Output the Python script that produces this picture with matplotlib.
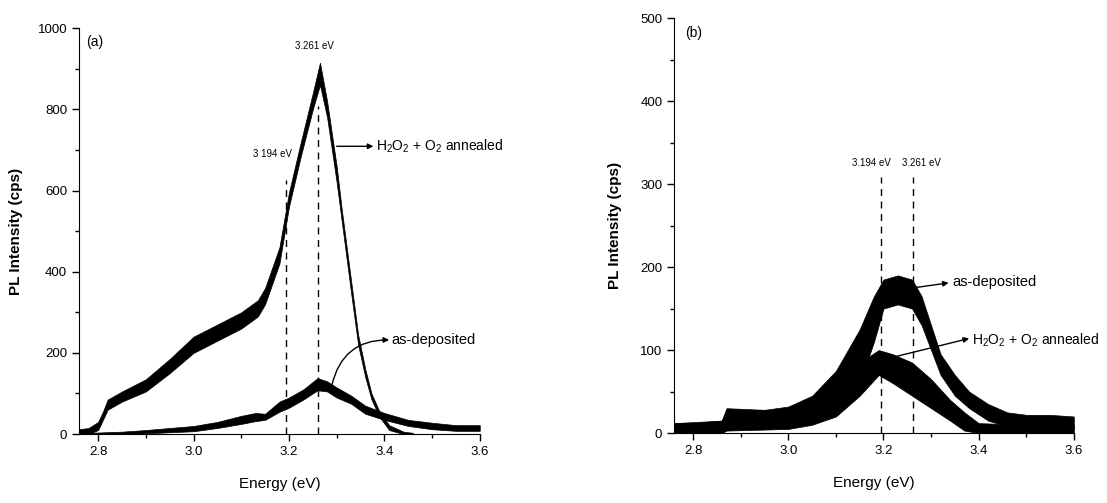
import matplotlib
matplotlib.use('Agg')
import matplotlib.pyplot as plt
from matplotlib.ticker import MultipleLocator

plt.rcParams['font.family'] = ['Liberation Sans', 'DejaVu Sans']
plt.rcParams['mathtext.fontset'] = 'custom'
plt.rcParams['mathtext.rm'] = 'Liberation Sans'
plt.rcParams['mathtext.default'] = 'rm'

# panel (a) - H2O2 + O2 annealed band (energy, lower, upper)
a_ann_e = [2.76, 2.78, 2.80, 2.81, 2.82, 2.85, 2.90, 2.95, 3.00, 3.05, 3.10, 3.135, 3.15, 3.18,
           3.20, 3.225, 3.25, 3.265, 3.28, 3.29, 3.30, 3.31, 3.32, 3.33, 3.345, 3.36, 3.373,
           3.39, 3.41, 3.44, 3.46]
a_ann_lo = [0, 0, 10, 35, 60, 80, 105, 150, 200, 230, 260, 290, 320, 420,
            560, 685, 800, 860, 780, 700, 620, 530, 440, 350, 220, 140, 85,
            42, 10, 0, 0]
a_ann_hi = [12, 15, 30, 55, 85, 105, 135, 185, 240, 270, 300, 330, 360, 460,
            595, 720, 840, 915, 820, 740, 660, 560, 470, 380, 245, 160, 100,
            55, 22, 6, 3]

# panel (a) - as-deposited band
a_dep_e = [2.78, 2.85, 2.90, 3.00, 3.05, 3.10, 3.13, 3.15, 3.18, 3.20, 3.23, 3.26, 3.28,
           3.30, 3.33, 3.36, 3.40, 3.45, 3.50, 3.55, 3.60]
a_dep_lo = [0, 0, 2, 7, 15, 25, 32, 35, 55, 65, 85, 108, 105, 90, 75, 50, 35, 20, 12, 8, 8]
a_dep_hi = [3, 6, 10, 20, 30, 45, 52, 50, 80, 90, 110, 138, 130, 115, 95, 70, 52, 35, 28, 22, 22]

# panel (b) - as-deposited band
b_dep_e = [2.76, 2.80, 2.86, 2.87, 2.95, 3.00, 3.05, 3.10, 3.15, 3.18, 3.20, 3.23, 3.26,
           3.28, 3.30, 3.32, 3.35, 3.38, 3.42, 3.46, 3.50, 3.55, 3.60]
b_dep_lo = [0, 0, 0, 5, 5, 8, 15, 30, 60, 110, 150, 155, 150, 130, 100, 70, 45, 30, 15, 8, 5, 5, 5]
b_dep_hi = [12, 12, 15, 30, 28, 32, 45, 75, 125, 165, 185, 190, 185, 165, 130, 95, 70, 50, 35, 25, 22, 22, 20]

# panel (b) - H2O2 + O2 annealed band
b_ann_e = [2.76, 2.86, 2.87, 3.00, 3.05, 3.10, 3.15, 3.19, 3.22, 3.26, 3.30, 3.34, 3.37, 3.40, 3.50, 3.60]
b_ann_lo = [0, 0, 3, 5, 10, 20, 45, 70, 60, 45, 30, 15, 3, 0, 0, 0]
b_ann_hi = [12, 15, 28, 28, 38, 55, 85, 100, 95, 85, 65, 40, 25, 12, 10, 10]

peaks = [3.194, 3.261]

fig = plt.figure(figsize=(11.07, 5.03), dpi=100)
axa = fig.add_axes([0.0714, 0.137, 0.362, 0.807])
axb = fig.add_axes([0.609, 0.139, 0.361, 0.825])

arrow = dict(arrowstyle='-|>', color='black', lw=1, shrinkA=0, shrinkB=0, mutation_scale=8)


def style(ax, ymax, ymaj, ymin):
    ax.set_xlim(2.76, 3.6)
    ax.set_ylim(0, ymax)
    ax.spines['top'].set_visible(False)
    ax.spines['right'].set_visible(False)
    ax.xaxis.set_major_locator(MultipleLocator(0.2))
    ax.xaxis.set_minor_locator(MultipleLocator(0.1))
    ax.yaxis.set_major_locator(MultipleLocator(ymaj))
    ax.yaxis.set_minor_locator(MultipleLocator(ymin))
    ax.xaxis.set_major_formatter(plt.FuncFormatter(lambda v, p: '%.1f' % v))
    ax.tick_params(which='major', direction='out', length=5, width=1, labelsize=9.5)
    ax.tick_params(which='minor', direction='out', length=3, width=1)
    ax.set_xlabel('Energy (eV)', fontsize=11, labelpad=14)
    ax.set_ylabel('PL Intensity (cps)', fontsize=11, fontweight='bold')


# ---- panel (a)
style(axa, 1000, 200, 100)
axa.fill_between(a_ann_e, a_ann_lo, a_ann_hi, color='black', lw=0.5)
axa.fill_between(a_dep_e, a_dep_lo, a_dep_hi, color='black', lw=0.5)
axa.vlines(peaks[0], 0, 627, colors='black', linestyles=(0, (5, 4)), lw=1)
axa.vlines(peaks[1], 0, 808, colors='black', linestyles=(0, (5, 4)), lw=1)
axa.text(3.253, 956, '3.261 eV', fontsize=7, ha='center', va='center')
axa.text(3.165, 689, '3 194 eV', fontsize=7, ha='center', va='center')
axa.text(2.775, 965, '(a)', fontsize=10, ha='left', va='center')
axa.annotate('', xy=(3.377, 709), xytext=(3.30, 709), arrowprops=arrow)
axa.text(3.382, 709, r'H$_2$O$_2$ + O$_2$ annealed', fontsize=10, va='center')
axa.annotate('', xy=(3.41, 232), xytext=(3.29, 120),
             arrowprops=dict(arrow, connectionstyle='arc3,rad=-0.4'))
axa.text(3.415, 232, 'as-deposited', fontsize=10.5, va='center')

# ---- panel (b)
style(axb, 500, 100, 50)
axb.fill_between(b_dep_e, b_dep_lo, b_dep_hi, color='black', lw=0.5)
axb.fill_between(b_ann_e, b_ann_lo, b_ann_hi, color='black', lw=0.5)
axb.vlines(peaks, 0, 308, colors='black', linestyles=(0, (5, 4)), lw=1)
axb.text(3.175, 325, '3.194 eV', fontsize=7, ha='center', va='center')
axb.text(3.28, 325, '3.261 eV', fontsize=7, ha='center', va='center')
axb.text(2.783, 482, '(b)', fontsize=10, ha='left', va='center')
axb.annotate('', xy=(3.337, 181), xytext=(3.263, 175), arrowprops=arrow)
axb.text(3.345, 182, 'as-deposited', fontsize=10.5, va='center')
axb.annotate('', xy=(3.38, 114), xytext=(3.21, 90), arrowprops=arrow)
axb.text(3.385, 112, r'H$_2$O$_2$ + O$_2$ annealed', fontsize=10, va='center')

axa.yaxis.set_label_coords(-0.14, 0.5)
axb.yaxis.set_label_coords(-0.13, 0.5)

fig.savefig('out.png', dpi=100)
